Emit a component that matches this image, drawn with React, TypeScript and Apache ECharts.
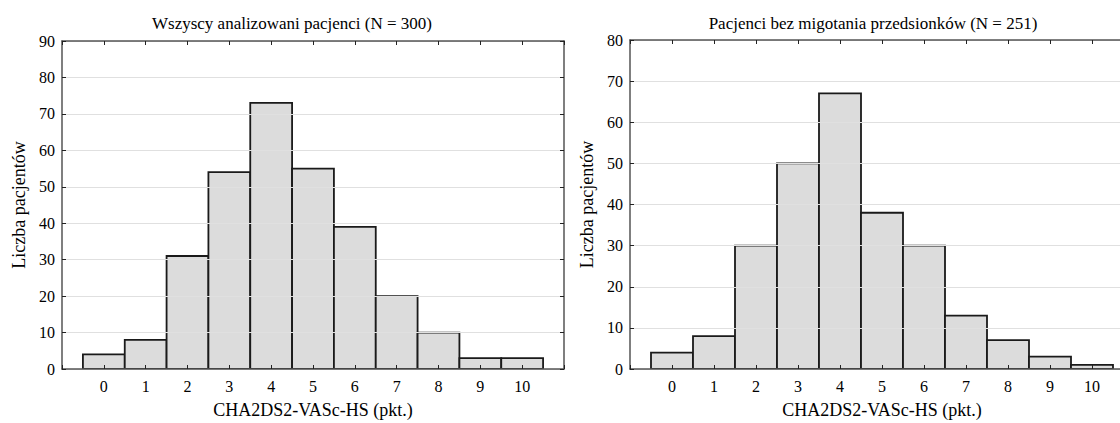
import React, { useEffect, useRef } from "react";
import * as echarts from "echarts";

const scores = [0, 1, 2, 3, 4, 5, 6, 7, 8, 9, 10];
const allPatients = [4, 8, 31, 54, 73, 55, 39, 20, 10, 3, 3];
const noAF = [4, 8, 30, 50, 67, 38, 30, 13, 7, 3, 1];
const titleAll = "Wszyscy analizowani pacjenci (N = 300)";
const titleNoAF = "Pacjenci bez migotania przedsionków (N = 251)";
const xName = "CHA2DS2-VASc-HS (pkt.)";
const yName = "Liczba pacjentów";

const FONT = "'Liberation Serif', 'Times New Roman', serif";
const AXIS_COLOR = "#555";

function xAxes(gridIndex: number) {
  const common = {
    type: "value" as const,
    gridIndex,
    min: -1,
    max: 11,
    interval: 1,
    z: 5,
    splitLine: { show: false },
    axisLine: { show: true, onZero: false, lineStyle: { color: AXIS_COLOR, width: 1.5 } },
    axisTick: { show: true, inside: true, length: 4, lineStyle: { color: "#222", width: 1 } },
  };
  return [
    {
      ...common,
      position: "bottom",
      name: xName,
      nameLocation: "middle",
      nameGap: 32,
      nameTextStyle: { fontFamily: FONT, fontSize: 18, color: "#000" },
      axisLabel: {
        fontFamily: FONT,
        fontSize: 16,
        color: "#000",
        margin: 9,
        formatter: (v: number) => (v < 0 || v > 10 ? "" : String(v)),
      },
    },
    {
      ...common,
      position: "top",
      axisLabel: { show: false },
    },
  ];
}

function yAxes(gridIndex: number, max: number) {
  const common = {
    type: "value" as const,
    gridIndex,
    min: 0,
    max,
    interval: 10,
    z: 5,
    axisLine: { show: true, onZero: false, lineStyle: { color: AXIS_COLOR, width: 1.5 } },
    axisTick: { show: true, inside: true, length: 4, lineStyle: { color: "#222", width: 1 } },
  };
  return [
    {
      ...common,
      position: "left",
      name: yName,
      nameLocation: "middle",
      nameGap: 34,
      nameRotate: 90,
      nameTextStyle: { fontFamily: FONT, fontSize: 18, color: "#000" },
      splitLine: { show: true, lineStyle: { color: "#e0e0e0", width: 1 } },
      axisLabel: { fontFamily: FONT, fontSize: 16, color: "#000", margin: 7 },
    },
    {
      ...common,
      position: "right",
      splitLine: { show: false },
      axisLabel: { show: false },
    },
  ];
}

function histSeries(index: number, values: number[]) {
  return {
    type: "custom" as const,
    xAxisIndex: index * 2,
    yAxisIndex: index * 2,
    data: scores.map((s, i) => [s, values[i]]),
    renderItem: (params: any, api: any) => {
      const x = api.value(0);
      const y = api.value(1);
      const p0 = api.coord([x - 0.5, y]);
      const p1 = api.coord([x + 0.5, 0]);
      return {
        type: "rect",
        shape: { x: p0[0], y: p0[1], width: p1[0] - p0[0], height: p1[1] - p0[1] },
        style: { fill: "#dcdcdc", stroke: "#1a1a1a", lineWidth: 1.8 },
      };
    },
  };
}

export default function App() {
  const ref = useRef<HTMLDivElement>(null);
  useEffect(() => {
    if (!ref.current) return;
    const chart = echarts.init(ref.current, undefined, { renderer: "svg" });
    chart.setOption({
      animation: false,
      backgroundColor: "#fff",
      title: [
        {
          text: titleAll,
          left: 287,
          top: 10,
          textAlign: "center",
          textStyle: { fontFamily: FONT, fontSize: 17, fontWeight: "normal", color: "#000" },
        },
        {
          text: titleNoAF,
          left: 868,
          top: 10,
          textAlign: "center",
          textStyle: { fontFamily: FONT, fontSize: 17, fontWeight: "normal", color: "#000" },
        },
      ],
      grid: [
        { left: 62, top: 41, width: 502, height: 328, outerBoundsMode: "none", containLabel: false },
        { left: 630, top: 40, width: 504, height: 329, outerBoundsMode: "none", containLabel: false },
      ],
      xAxis: [...xAxes(0), ...xAxes(1)],
      yAxis: [...yAxes(0, 90), ...yAxes(1, 80)],
      series: [histSeries(0, allPatients), histSeries(1, noAF)],
    });
    return () => chart.dispose();
  }, []);
  return (
    <div
      ref={ref}
      style={{ position: "fixed", left: 0, top: 0, width: 1120, height: 423, overflow: "hidden" }}
    />
  );
}
